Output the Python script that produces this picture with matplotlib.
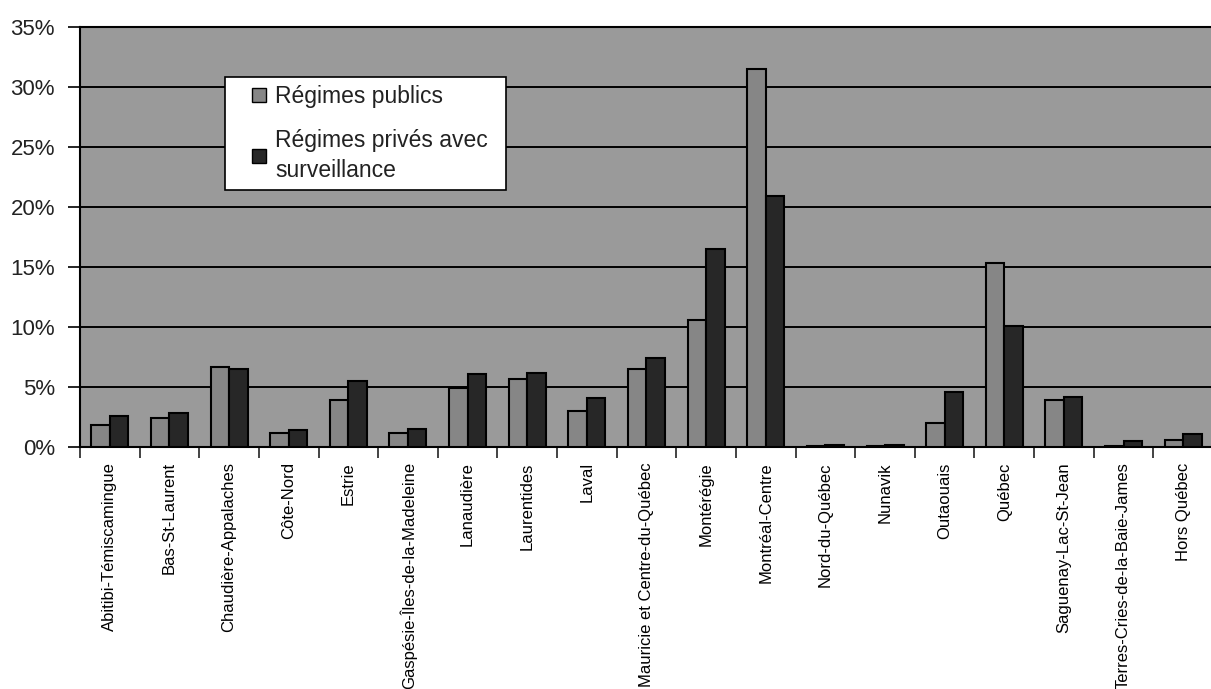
import matplotlib
matplotlib.use("Agg")
import matplotlib.pyplot as plt
import numpy as np
from matplotlib.ticker import MultipleLocator, FuncFormatter, FixedLocator
from matplotlib.lines import Line2D

categories = [
    "Abitibi-Témiscamingue", "Bas-St-Laurent", "Chaudière-Appalaches", "Côte-Nord",
    "Estrie", "Gaspésie-Îles-de-la-Madeleine", "Lanaudière", "Laurentides", "Laval",
    "Mauricie et Centre-du-Québec", "Montérégie", "Montréal-Centre", "Nord-du-Québec",
    "Nunavik", "Outaouais", "Québec", "Saguenay-Lac-St-Jean",
    "Terres-Cries-de-la-Baie-James", "Hors Québec",
]
publics = [1.8, 2.4, 6.7, 1.2, 3.9, 1.2, 4.9, 5.7, 3.0, 6.5, 10.6, 31.5, 0.05, 0.1,
           2.0, 15.3, 3.9, 0.05, 0.6]
prives = [2.6, 2.8, 6.5, 1.4, 5.5, 1.5, 6.1, 6.2, 4.1, 7.4, 16.5, 20.9, 0.15, 0.15,
          4.6, 10.1, 4.2, 0.5, 1.1]
legend_labels = ["Régimes publics", "Régimes privés avec\nsurveillance"]

col_pub = '#868686'
col_priv = '#272727'

plt.rcParams['font.family'] = ['Liberation Sans', 'DejaVu Sans']

fig = plt.figure(figsize=(12.11, 6.89), dpi=100, facecolor='white')
ax = fig.add_axes([80/1211, 1-447/689, 1133/1211, 420/689])
ax.set_facecolor('#9a9a9a')

x = np.arange(len(categories))
w = 0.31
ax.bar(x - w/2, publics, width=w, color=col_pub, edgecolor='black', linewidth=1.5,
       zorder=3)
ax.bar(x + w/2, prives, width=w, color=col_priv, edgecolor='black', linewidth=1.5,
       zorder=3)

ax.set_xlim(-0.5, len(categories) - 0.5)
ax.set_ylim(0, 35)
ax.yaxis.set_major_locator(MultipleLocator(5))
ax.yaxis.set_major_formatter(FuncFormatter(lambda v, p: f"{int(round(v))}%"))
ax.grid(axis='y', color='black', linewidth=1.4, zorder=1)
ax.set_axisbelow(True)

# category labels at centers, tick marks at boundaries
ax.set_xticks(x)
ax.set_xticklabels(categories, rotation=90, fontsize=12)
ax.tick_params(axis='x', which='major', length=0, pad=11)
ax.xaxis.set_minor_locator(FixedLocator(np.arange(-0.5, len(categories), 1.0)))
ax.tick_params(axis='x', which='minor', length=8, width=1.2, color='#222222')
ax.tick_params(axis='y', length=9, width=1.2, labelsize=16, pad=9, labelcolor='#222222')

for s in ['left', 'bottom', 'top']:
    ax.spines[s].set_linewidth(1.5)
    ax.spines[s].set_color('black')
ax.spines['right'].set_visible(False)

handles = [
    Line2D([], [], linestyle='none', marker='s', markersize=10, markerfacecolor=col_pub,
           markeredgecolor='black', markeredgewidth=1.0),
    Line2D([], [], linestyle='none', marker='s', markersize=10, markerfacecolor=col_priv,
           markeredgecolor='black', markeredgewidth=1.0),
]
x0 = (225 - 80) / 1133
x1 = (506 - 80) / 1133
ytop = (447 - 77) / 420
leg = ax.legend(handles, legend_labels, loc='upper left',
                bbox_to_anchor=(x0, ytop - 0.5, x1 - x0, 0.5), mode='expand',
                fontsize=16.5, frameon=True, fancybox=False, edgecolor='black',
                facecolor='white', framealpha=1, handlelength=2.27, handletextpad=-0.44,
                labelspacing=0.9, borderpad=0.35, borderaxespad=0)
for t in leg.get_texts():
    t.set_linespacing(1.4)
    t.set_color('#222222')
leg.get_frame().set_linewidth(1.2)
leg.set_zorder(5)

fig.savefig("out.png", dpi=100, facecolor='white')
